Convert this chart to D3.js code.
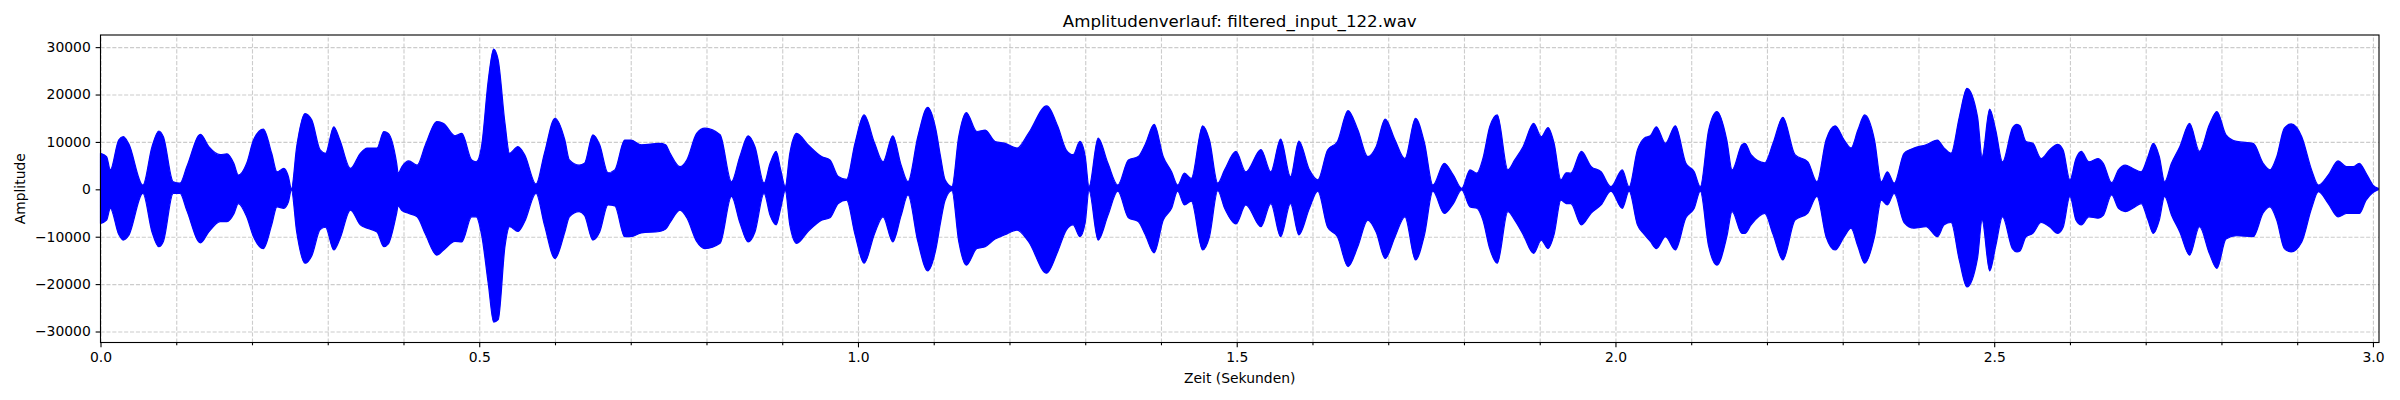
<!DOCTYPE html>
<html lang="de">
<head>
    <meta charset="UTF-8">
    <title>Amplitudenverlauf</title>
    <script src="https://d3js.org/d3.v7.min.js"></script>
    <style>
        body { margin: 0; background: #fff; }
        svg text { font-family: "DejaVu Sans", sans-serif; fill: #000; }
        .grid line { stroke: #b0b0b0; stroke-opacity: 0.65; stroke-width: 1.1; stroke-dasharray: 4.1 1.8; }
        .grid .domain { stroke: none; }
        .axis .domain { stroke: none; }
        .axis line { stroke: #000; stroke-width: 1.1; }
        .axis text { font-size: 13.9px; }
    </style>
</head>
<body>
<script>
    // envelope of the waveform (seconds / amplitude)
    const times = [
        0, 0.008, 0.013, 0.024, 0.030, 0.037, 0.056, 0.068, 0.077, 0.083, 0.096, 0.105, 0.114, 0.132, 0.143, 0.158, 0.167, 0.176, 0.182, 0.193,
        0.202, 0.215, 0.226, 0.233, 0.242, 0.248, 0.252, 0.259, 0.270, 0.279, 0.290, 0.297, 0.308, 0.316, 0.330, 0.343, 0.352, 0.365, 0.374, 0.380,
        0.391, 0.393, 0.398, 0.407, 0.418, 0.429, 0.444, 0.453, 0.468, 0.477, 0.490, 0.496, 0.503, 0.512, 0.519, 0.525, 0.534, 0.540, 0.551, 0.560,
        0.575, 0.586, 0.600, 0.613, 0.619, 0.632, 0.639, 0.650, 0.659, 0.670, 0.679, 0.692, 0.700, 0.714, 0.738, 0.746, 0.752, 0.765, 0.774, 0.787,
        0.798, 0.818, 0.833, 0.844, 0.855, 0.864, 0.876, 0.884, 0.892, 0.898, 0.904, 0.910, 0.919, 0.934, 0.952, 0.963, 0.974, 0.985, 0.996, 1.008,
        1.022, 1.033, 1.046, 1.057, 1.066, 1.079, 1.092, 1.103, 1.109, 1.115, 1.124, 1.133, 1.143, 1.157, 1.168, 1.181, 1.194, 1.210, 1.225, 1.249,
        1.264, 1.275, 1.284, 1.293, 1.300, 1.305, 1.317, 1.330, 1.343, 1.357, 1.370, 1.379, 1.391, 1.403, 1.414, 1.422, 1.431, 1.440, 1.455, 1.464,
        1.475, 1.484, 1.499, 1.512, 1.532, 1.545, 1.558, 1.571, 1.582, 1.596, 1.607, 1.620, 1.633, 1.647, 1.660, 1.673, 1.684, 1.696, 1.709, 1.722,
        1.736, 1.748, 1.759, 1.774, 1.786, 1.797, 1.808, 1.817, 1.825, 1.834, 1.844, 1.858, 1.867, 1.878, 1.892, 1.902, 1.911, 1.919, 1.928, 1.935,
        1.941, 1.955, 1.968, 1.981, 1.994, 2.009, 2.018, 2.029, 2.038, 2.046, 2.054, 2.066, 2.079, 2.093, 2.104, 2.112, 2.123, 2.134, 2.147, 2.154,
        2.167, 2.171, 2.179, 2.197, 2.208, 2.221, 2.237, 2.254, 2.266, 2.278, 2.290, 2.302, 2.311, 2.320, 2.329, 2.342, 2.351, 2.359, 2.368, 2.381,
        2.394, 2.410, 2.425, 2.434, 2.443, 2.454, 2.464, 2.478, 2.484, 2.494, 2.502, 2.511, 2.524, 2.530, 2.534, 2.542, 2.551, 2.562, 2.573, 2.584,
        2.591, 2.600, 2.608, 2.615, 2.625, 2.637, 2.644, 2.655, 2.664, 2.673, 2.683, 2.694, 2.703, 2.710, 2.718, 2.725, 2.734, 2.745, 2.758, 2.771,
        2.784, 2.794, 2.806, 2.820, 2.842, 2.855, 2.864, 2.873, 2.883, 2.892, 2.906, 2.919, 2.928, 2.941, 2.954, 2.965, 2.974, 2.982, 2.991, 3.000,
        3.007
    ];
    const upper = [
        7600, 6900, 4100, 10400, 11100, 9700, 900, 9000, 12300, 11100, 1600, 1300, 4800, 11600, 9000, 7300, 7500, 5500, 3000, 5500,
        10400, 12700, 7600, 3700, 4400, 2700, 100, 9000, 16000, 14600, 8300, 7600, 13200, 10400, 4400, 7600, 8700, 8700, 12200, 11800,
        5500, 3400, 4800, 6000, 5100, 9400, 14300, 13900, 11300, 11800, 6200, 5800, 9000, 23100, 29600, 27300, 13900, 7600, 9000, 7300,
        1100, 7600, 15000, 10400, 6200, 5100, 5500, 11500, 9400, 3500, 4100, 10400, 10400, 9400, 9700, 9400, 7600, 4800, 6200, 11800,
        12900, 11500, 1600, 6900, 11300, 9000, 1300, 5500, 8000, 4100, 600, 7600, 11800, 9400, 6900, 6200, 2700, 2100, 9700, 15700,
        9700, 5800, 11300, 5100, 1600, 11100, 17300, 12500, 6900, 2000, 600, 11100, 16200, 12200, 12500, 10100, 9700, 8700, 11800, 17600,
        13200, 8300, 7300, 10100, 6900, 600, 10800, 5500, 900, 6200, 6900, 9400, 13700, 6900, 3700, 900, 3400, 2300, 13400, 10400,
        1300, 4100, 8000, 3700, 8400, 3700, 10600, 2700, 10200, 4100, 2000, 8300, 10100, 16600, 12500, 6900, 9000, 14800, 10400, 6500,
        15000, 9700, 900, 5500, 3000, 200, 4100, 3400, 6500, 13200, 15700, 4100, 6200, 9000, 13900, 11100, 13000, 9700, 2000, 3500,
        3400, 8000, 4800, 3700, 560, 4100, 500, 8300, 10800, 11300, 13200, 9700, 13400, 5500, 3700, 560, 12500, 16400, 10400, 4100,
        9400, 9700, 7300, 5600, 9700, 15200, 7300, 5800, 1600, 10400, 13400, 10400, 8700, 12500, 15700, 10400, 1600, 3700, 1300, 7600,
        8700, 9400, 10400, 8700, 7600, 15300, 21300, 15300, 6900, 16900, 12500, 5800, 12900, 13700, 13400, 10100, 9700, 6500, 8300, 9500,
        8300, 2000, 6500, 8000, 5800, 6500, 5500, 1400, 4100, 5100, 4400, 3700, 6900, 9700, 6900, 1600, 5500, 9000, 13900, 8000,
        13600, 16400, 11500, 10100, 9700, 5500, 4100, 6900, 12900, 13800, 11100, 4100, 900, 3000, 6000, 4800, 4800, 5500, 3400, 900,
        200
    ];
    const lower = [
        -7200, -6500, -4000, -9500, -10700, -9800, -850, -9000, -12100, -11000, -850, -850, -4500, -11300, -9000, -6800, -6800, -5200, -3000, -5800,
        -10000, -12500, -7500, -3700, -4000, -2700, -100, -9000, -15600, -14000, -8500, -8000, -12800, -10500, -4400, -7500, -8200, -9000, -12100, -11500,
        -5000, -3500, -4500, -5100, -5800, -9500, -13900, -12800, -11000, -11100, -5800, -5800, -9500, -20000, -28000, -27500, -12000, -7900, -8900, -6800,
        -850, -7500, -14600, -9000, -5800, -4700, -5500, -10700, -9000, -3300, -3500, -10000, -10000, -9200, -8900, -8400, -7000, -4400, -6000, -11000,
        -12500, -11400, -1500, -7000, -11100, -9000, -850, -5500, -7500, -4000, -300, -7500, -11400, -8900, -6500, -6000, -3000, -2300, -9500, -15600,
        -9300, -5800, -11100, -5500, -1200, -11000, -17200, -12500, -7000, -2300, -300, -11000, -16000, -12500, -12100, -10500, -9600, -8600, -11000, -17700,
        -13000, -8600, -7500, -10000, -7000, -300, -10700, -5500, -400, -6000, -6800, -9500, -13400, -6500, -4000, -400, -3300, -2500, -12800, -10000,
        -300, -4000, -7300, -3300, -7900, -3000, -10000, -3000, -9600, -4000, -400, -8000, -10000, -16300, -12000, -6500, -9000, -14600, -10000, -5800,
        -14900, -9500, -400, -5100, -3000, -100, -3700, -4000, -6500, -12500, -15600, -4700, -6500, -9500, -13500, -10700, -12500, -9500, -2300, -3000,
        -3000, -7500, -5000, -3300, -400, -4000, -400, -7500, -9500, -11000, -12500, -10000, -12800, -6000, -4000, -400, -12000, -16000, -10000, -4700,
        -9300, -9300, -7500, -5100, -9500, -14900, -6500, -5000, -1500, -10000, -12800, -10000, -8200, -12000, -15600, -10000, -2300, -3300, -850, -7000,
        -8200, -7900, -10000, -7500, -7000, -15000, -20600, -14500, -6500, -17200, -12000, -5800, -12500, -13200, -13000, -10000, -9300, -7000, -7900, -9300,
        -8000, -1500, -6500, -7500, -5800, -6100, -5500, -1200, -4000, -4700, -4000, -3000, -6500, -9300, -6500, -1500, -5400, -9000, -13900, -7900,
        -13500, -16700, -10500, -9800, -10000, -5000, -3700, -6500, -12500, -13200, -11100, -4000, -500, -3000, -5800, -5100, -5100, -5100, -2300, -700,
        -100
    ];

    const xMajorTicks = [0, 0.5, 1.0, 1.5, 2.0, 2.5, 3.0];
    const xTickLabels = ["0.0", "0.5", "1.0", "1.5", "2.0", "2.5", "3.0"];
    const xMinorTicks = [0.1, 0.2, 0.3, 0.4, 0.6, 0.7, 0.8, 0.9, 1.1, 1.2, 1.3, 1.4, 1.6, 1.7, 1.8, 1.9,
                         2.1, 2.2, 2.3, 2.4, 2.6, 2.7, 2.8, 2.9];
    const yTicks = [-30000, -20000, -10000, 0, 10000, 20000, 30000];
    const yTickLabels = ["\u221230000", "\u221220000", "\u221210000", "0", "10000", "20000", "30000"];

    const svgWidth = 2400;
    const svgHeight = 400;
    const margins = {top: 35, right: 21, bottom: 57.5, left: 100.5};
    const chartWidth = svgWidth - margins.left - margins.right;
    const chartHeight = svgHeight - margins.top - margins.bottom;

    const svg = d3.select("body").append("svg")
        .attr("width", svgWidth)
        .attr("height", svgHeight);

    const chart = svg.append("g")
        .attr("transform", `translate(${margins.left},${margins.top})`);

    const xScale = d3.scaleLinear().domain([0, 3.008]).range([0, chartWidth]);
    const yScale = d3.scaleLinear().domain([-32320, 32560]).range([chartHeight, 0]);

    // gridlines (major + minor on x)
    chart.append("g")
        .attr("class", "grid")
        .attr("transform", `translate(0,${chartHeight})`)
        .call(d3.axisBottom(xScale)
            .tickValues(xMajorTicks.concat(xMinorTicks))
            .tickSize(-chartHeight)
            .tickFormat(""));

    chart.append("g")
        .attr("class", "grid")
        .call(d3.axisLeft(yScale)
            .tickValues(yTicks)
            .tickSize(-chartWidth)
            .tickFormat(""));

    // waveform as filled envelope
    const env = times.map((t, i) => ({t: t, hi: upper[i], lo: lower[i]}));
    const area = d3.area()
        .x(d => xScale(d.t))
        .y0(d => yScale(d.lo))
        .y1(d => yScale(d.hi))
        .curve(d3.curveMonotoneX);

    chart.append("path")
        .datum(env)
        .attr("d", area)
        .attr("fill", "#0000ff")
        .attr("stroke", "#0000ff")
        .attr("stroke-width", 1.2)
        .attr("stroke-linejoin", "round");

    // axes
    chart.append("g")
        .attr("class", "axis")
        .attr("transform", `translate(0,${chartHeight})`)
        .call(d3.axisBottom(xScale)
            .tickValues(xMajorTicks)
            .tickSize(4.86)
            .tickPadding(4.86)
            .tickFormat((d, i) => xTickLabels[i]));

    chart.append("g")
        .attr("class", "axis")
        .attr("transform", `translate(0,${chartHeight})`)
        .call(d3.axisBottom(xScale)
            .tickValues(xMinorTicks)
            .tickSize(2.78)
            .tickFormat(""));

    chart.append("g")
        .attr("class", "axis")
        .call(d3.axisLeft(yScale)
            .tickValues(yTicks)
            .tickSize(4.86)
            .tickPadding(4.86)
            .tickFormat((d, i) => yTickLabels[i]));

    // frame
    chart.append("rect")
        .attr("width", chartWidth)
        .attr("height", chartHeight)
        .attr("fill", "none")
        .attr("stroke", "#000")
        .attr("stroke-width", 1.1);

    // labels
    svg.append("text")
        .attr("x", margins.left + chartWidth / 2)
        .attr("y", 27.3)
        .attr("text-anchor", "middle")
        .style("font-size", "16.67px")
        .text("Amplitudenverlauf: filtered_input_122.wav");

    svg.append("text")
        .attr("x", margins.left + chartWidth / 2)
        .attr("y", 383.3)
        .attr("text-anchor", "middle")
        .style("font-size", "13.9px")
        .text("Zeit (Sekunden)");

    svg.append("text")
        .attr("transform", `translate(25.2,${margins.top + chartHeight / 2}) rotate(-90)`)
        .attr("text-anchor", "middle")
        .style("font-size", "13.9px")
        .text("Amplitude");
</script>
</body>
</html>
